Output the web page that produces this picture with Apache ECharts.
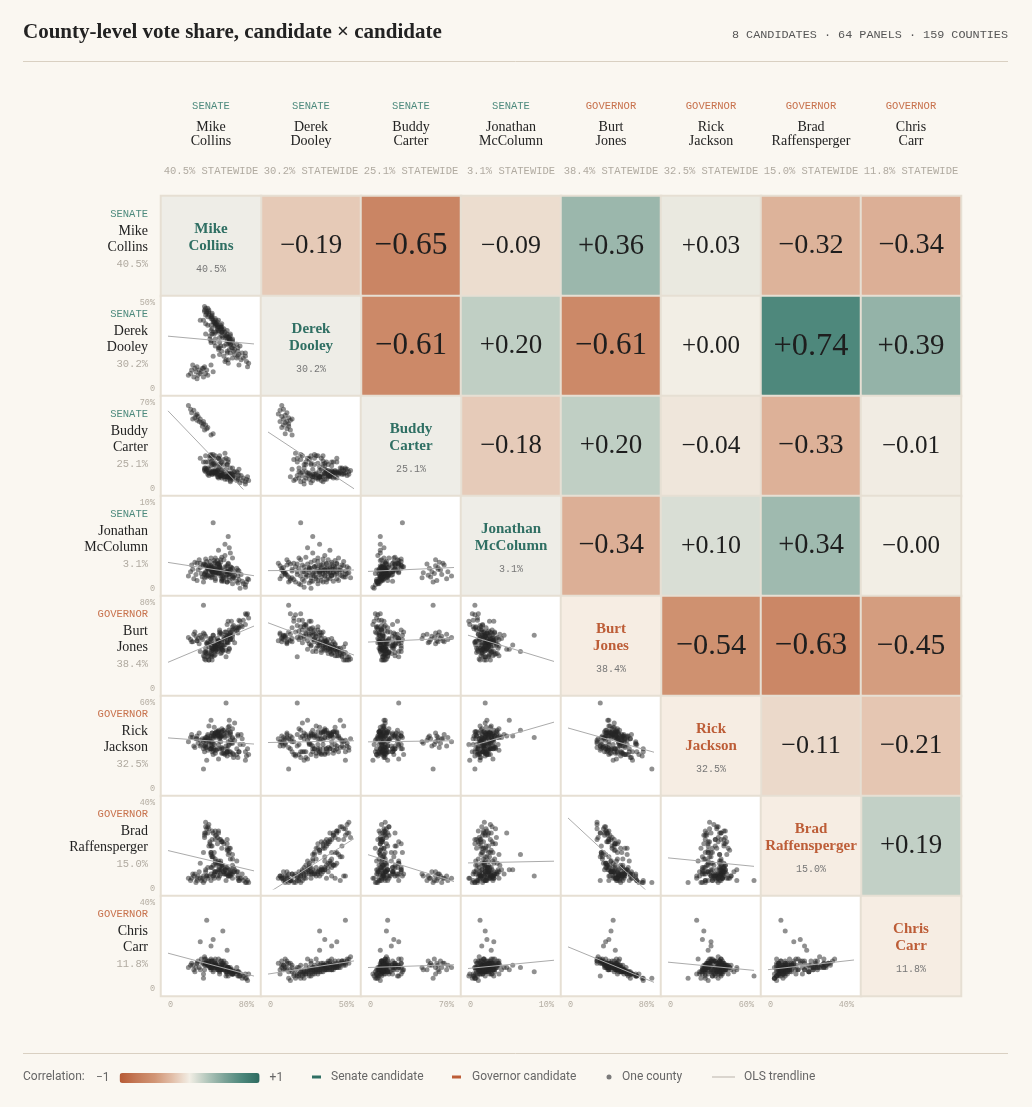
<!DOCTYPE html>
<html>
<head>
<meta charset="utf-8">
<script src="https://cdn.jsdelivr.net/npm/echarts@6/dist/echarts.min.js"></script>
<style>
html, body { margin: 0; padding: 0; background: #faf7f1; }
#chart { width: 1032px; height: 1107px; }
</style>
</head>
<body>
<div id="chart"></div>
<script>
// candidates, in matrix order
var candidates = ['Mike Collins', 'Derek Dooley', 'Buddy Carter', 'Jonathan McColumn',
    'Burt Jones', 'Rick Jackson', 'Brad Raffensperger', 'Chris Carr'];
var offices = ['SENATE', 'SENATE', 'SENATE', 'SENATE', 'GOVERNOR', 'GOVERNOR', 'GOVERNOR', 'GOVERNOR'];
var statewide = [40.5, 30.2, 25.1, 3.1, 38.4, 32.5, 15.0, 11.8];
var axisMax = [80, 50, 70, 10, 80, 60, 40, 40];

// correlation (upper triangle, as printed)
var corr = [
    [null, -0.19, -0.65, -0.09, 0.36, 0.03, -0.32, -0.34],
    [null, null, -0.61, 0.20, -0.61, 0.00, 0.74, 0.39],
    [null, null, null, -0.18, 0.20, -0.04, -0.33, -0.01],
    [null, null, null, null, -0.34, 0.10, 0.34, -0.00],
    [null, null, null, null, null, -0.54, -0.63, -0.45],
    [null, null, null, null, null, null, -0.11, -0.21],
    [null, null, null, null, null, null, null, 0.19],
    [null, null, null, null, null, null, null, null]
];

// county vote share, % (159 counties, same order in every list)
var collins = [74,66,56,73,53,68,64,70,52,65, 48,66,55,69,50,61,65,47,62,59, 47,65,49,61,44,58,58,64,48,60,
    43,55,40,60,58,57,44,56,57,53, 39,54,54,55,43,58,50,50,53,40, 51,46,41,52,49,48,46,47,37,49,
    44,44,50,35,42,46,43,44,33,47, 41,40,44,41,37,41,35,41,36,38, 34,38,35,37,34,56,72,62,72,57,
    48,67,56,57,40,57,60,39,48,55, 50,58,41,35,51,47,55,47,46,50, 49,50,46,44,45,45,43,42,40,38,
    38,34,42,60,54,36,51,30,42,40, 52,58,75,60,55,54,44,
    19,21,24,22,26,25,28,27,30,29, 31,33,23,32,35,34,36,33,40,27,42,37];
var dooley = [13,14,15,16,16,17,18,18,19,19, 20,20,21,21,22,22,22,23,23,24, 24,24,25,25,25,26,26,26,27,27,
    27,28,28,28,29,29,29,30,30,30, 31,31,31,32,32,32,33,33,33,34, 34,34,35,35,35,36,36,36,37,37,
    37,38,38,38,39,39,39,40,40,40, 41,41,41,42,42,43,43,44,44,45, 45,46,47,47,48,17,19,20,21,23,
    24,25,26,27,27,28,29,29,30,30, 31,31,32,32,33,33,34,34,35,35, 36,36,37,37,38,38,39,40,42,43,
    44,46,19,24,26,45,30,40,33,37, 25,21,15,18,22,17,33,
    8,9,7,11,10,12,8,13,9,11, 10,7,14,12,9,13,11,12,14,6,10,8];
var carter = [10,16,24,8,29,11,14,9,24,13, 27,11,20,7,22,14,9,25,11,13, 25,8,21,11,27,12,10,7,20,10,
    25,13,27,9,9,11,21,10,9,10, 25,12,10,10,20,6,13,13,8,22, 12,15,20,10,11,11,14,10,22,10,
    14,14,9,22,15,10,14,13,22,9, 14,13,12,13,17,12,17,12,15,13, 17,11,14,12,15,22,6,14,4,13,
    24,5,10,12,28,12,8,27,18,10, 16,7,23,27,12,16,8,14,15,11, 11,11,12,15,13,13,13,14,14,16,
    13,16,28,12,16,16,15,25,21,19, 20,17,7,17,20,25,19,
    68,65,64,62,60,58,59,56,57,55, 54,55,57,51,52,48,49,53,44,61,45,50];
var mccolumn = [1.2,2.1,3.0,0.8,2.6,1.7,2.4,0.6,3.4,1.5, 2.8,1.1,2.0,0.9,3.7,1.4,2.2,2.9,1.6,2.5,
    1.9,0.7,3.1,1.3,2.4,1.8,4.2,0.9,2.6,1.5, 3.3,2.0,2.7,1.2,2.3,1.0,3.6,2.1,1.7,5.2,
    2.8,1.4,2.5,0.8,3.0,1.8,2.2,1.6,3.9,2.4, 1.1,2.9,2.0,1.3,3.4,2.6,1.9,4.5,2.3,1.5,
    3.1,2.0,0.9,2.7,1.7,3.3,2.4,1.2,2.9,1.8, 2.2,3.6,1.0,2.5,1.6,2.0,2.8,1.4,3.2,2.1,
    1.7,2.6,1.9,2.4,1.3,2.9,0.5,2.0,0.2,4.8, 2.3,0.1,6.1,2.0,2.6,1.4,0.6,3.2,1.9,2.7,
    1.0,2.2,2.1,3.5,1.5,2.5,0.8,3.0,2.2,1.8, 2.4,1.2,2.9,1.6,2.3,1.9,2.6,2.0,2.2,1.5,
    2.7,1.8,7.7,2.4,1.6,1.4,2.0,3.0,2.2,1.6, 0.9,2.6,1.1,3.6,1.7,2.0,2.0,
    1.5,2.0,1.2,2.8,1.7,3.1,2.2,1.0,2.5,3.4, 1.8,2.7,2.3,1.4,2.0,2.9,1.6,0.8,1.3,3.0,1.9,2.4];
var jones = [70,57,63,69,53,59,54,64,48,58, 55,64,49,58,51,59,52,45,55,63, 42,56,52,56,40,46,50,57,44,55,
    47,49,35,51,46,55,40,43,50,41, 47,50,36,44,40,53,44,41,47,41, 36,44,38,46,33,40,35,37,42,38,
    32,39,44,34,37,41,31,35,31,38, 36,31,38,32,34,30,35,27,33,27, 34,27,27,30,28,48,70,43,60,37,
    51,63,35,51,46,38,58,43,53,44, 34,52,43,38,36,45,43,45,42,37, 40,38,47,36,37,39,42,36,38,31,
    39,30,50,49,53,42,40,35,38,33, 41,47,66,46,60,30,40,
    48,46,51,44,49,53,47,45,50,42, 48,52,44,46,49,51,43,78,47,45,50,44];
var jackson = [28,26,33,23,24,38,24,31,41,22, 37,26,26,35,37,22,38,21,34,32, 31,37,37,24,39,26,38,28,28,36,
    38,23,37,25,40,31,27,43,26,37, 35,25,39,40,28,34,25,42,36,28, 28,39,39,25,36,39,28,37,38,33,
    37,25,40,36,27,40,31,39,28,40, 26,36,37,29,35,30,34,33,29,34, 26,32,29,27,35,30,26,46,20,48,
    36,31,41,37,28,44,35,28,35,28, 40,24,39,31,41,40,26,41,38,29, 37,28,38,39,27,40,43,37,48,33,
    44,30,36,32,30,20,25,30,24,30, 38,39,24,42,26,60,36,
    33,36,30,38,35,29,32,37,34,39, 31,33,36,35,30,34,36,14,33,35,32,37];
var raffensperger = [4,4,6,3,7,5,8,4,7,6, 9,4,10,7,11,8,5,13,9,7, 12,8,7,10,8,14,7,13,8,16,
    7,19,10,14,8,19,8,18,17,9, 22,7,10,21,8,19,10,19,9,20, 11,21,10,21,12,23,12,26,10,23,
    14,25,11,26,11,24,17,27,17,27, 27,16,23,15,29,15,29,23,28,28, 25,30,31,26,24,6,3,8,5,9,
    10,5,16,7,17,6,7,21,6,18, 9,9,20,9,22,9,23,5,8,22, 13,22,6,12,25,11,5,26,4,20,
    6,26,6,11,9,6,8,12,15,17, 8,6,3,5,7,4,13,
    5,4,6,5,3,7,6,4,5,8, 4,6,7,5,8,4,6,3,7,5,6,5];
var carr = [4,8,6,5,9,7,10,6,11,8, 7,6,9,5,11,7,8,14,8,7, 10,6,9,8,12,9,10,7,10,7,
    11,8,14,9,9,8,12,10,9,11, 10,8,12,10,11,8,10,11,9,10, 12,9,10,9,13,11,12,10,11,9,
    14,11,9,12,11,10,13,11,12,10, 11,13,10,12,11,13,12,13,12,12, 11,13,14,12,15,10,5,8,7,9,
    9,6,10,8,9,9,7,10,8,18, 10,9,11,12,11,9,10,9,10,12, 9,13,9,11,10,11,10,10,10,13,
    11,14,8,8,8,32,27,22,23,20, 13,8,7,7,7,6,11,
    10,11,9,12,10,8,13,12,9,10, 14,7,11,12,11,9,13,5,10,12,9,11];

var shares = [collins, dooley, carter, mccolumn, jones, jackson, raffensperger, carr];

var SENATE = '#2f6f63', GOV = '#bd5d37';
var SENATE_LBL = '#4d8a7d', GOV_LBL = '#c8724d';
var rampColors = ['#b75a34', '#c57a58', '#d19575', '#e2bea8', '#f2eee5', '#b3c7bc', '#7ca398', '#4c877b', '#2e6b60'];
var SERIF = '"Liberation Serif", "DejaVu Serif", serif';
var MONO = '"Liberation Mono", "DejaVu Sans Mono", monospace';
var SANS = 'Roboto, "Noto Sans", sans-serif';

var X0 = 161, Y0 = 196, CELL = 100, PAD = 7, N = candidates.length;

function fmt(r) {
    var neg = r < 0 || Object.is(r, -0);
    return (neg ? '\u2212' : '+') + Math.abs(r).toFixed(2);
}

function ols(xs, ys) {
    var n = xs.length, mx = 0, my = 0;
    for (var k = 0; k < n; k++) { mx += xs[k]; my += ys[k]; }
    mx /= n; my /= n;
    var sxy = 0, sxx = 0;
    for (var k = 0; k < n; k++) {
        sxy += (xs[k] - mx) * (ys[k] - my);
        sxx += (xs[k] - mx) * (xs[k] - mx);
    }
    var b = sxy / sxx;
    return { a: my - b * mx, b: b };
}

var grids = [{ left: X0, top: Y0, width: CELL * N, height: CELL * N }];
var xAxes = [{ type: 'category', gridIndex: 0, data: candidates, show: false }];
var yAxes = [{ type: 'category', gridIndex: 0, data: candidates, inverse: true, show: false }];

// correlation cells + plain cells (diagonal, scatter backgrounds)
var corrData = [];
var plainData = [];
for (var i = 0; i < N; i++) {
    for (var j = 0; j < N; j++) {
        if (j > i) {
            var r = corr[i][j];
            corrData.push({
                value: [j, i, r],
                label: { formatter: fmt(r), fontSize: 25 + 10 * Math.abs(r) }
            });
        } else {
            var bg = '#ffffff';
            if (i === j) bg = offices[i] === 'SENATE' ? '#eeede7' : '#f6ede3';
            plainData.push({ value: [j, i, 0], itemStyle: { color: bg } });
        }
    }
}

var series = [{
    type: 'heatmap',
    xAxisIndex: 0, yAxisIndex: 0,
    data: corrData,
    itemStyle: { borderColor: '#e6dfd3', borderWidth: 2 },
    label: { show: true, color: '#1e1e1e', fontFamily: SERIF },
    emphasis: { disabled: true },
    silent: true
}, {
    type: 'heatmap',
    xAxisIndex: 0, yAxisIndex: 0,
    data: plainData,
    itemStyle: { borderColor: '#e6dfd3', borderWidth: 2 },
    emphasis: { disabled: true },
    silent: true
}];

// scatter panels, lower triangle
var axisLabelBase = { color: '#b4ada2', fontFamily: MONO, fontSize: 8.5 };
function pctLabel(v) { return v === 0 ? '0' : v + '%'; }
for (var i = 1; i < N; i++) {
    for (var j = 0; j < i; j++) {
        var g = grids.length;
        grids.push({ left: X0 + CELL * j + PAD, top: Y0 + CELL * i + PAD, width: CELL - 2 * PAD, height: CELL - 2 * PAD });
        xAxes.push({
            type: 'value', gridIndex: g, min: 0, max: axisMax[j], interval: axisMax[j],
            axisLine: { show: false }, axisTick: { show: false }, splitLine: { show: false },
            axisLabel: Object.assign({
                show: i === N - 1, margin: 11, alignMinLabel: 'left', alignMaxLabel: 'right',
                formatter: pctLabel
            }, axisLabelBase)
        });
        yAxes.push({
            type: 'value', gridIndex: g, min: 0, max: axisMax[i], interval: axisMax[i],
            axisLine: { show: false }, axisTick: { show: false }, splitLine: { show: false },
            axisLabel: Object.assign({ show: j === 0, margin: 13, formatter: pctLabel }, axisLabelBase)
        });
        var xs = shares[j], ys = shares[i];
        var pts = xs.map(function (x, n) { return [x, ys[n]]; });
        var fit = ols(xs, ys);
        var xm = axisMax[j];
        series.push({
            type: 'line', xAxisIndex: g, yAxisIndex: g,
            data: [[0, fit.a], [xm, fit.a + fit.b * xm]],
            symbol: 'none', clip: true, silent: true,
            lineStyle: { color: '#ababab', width: 1 }
        });
        series.push({
            type: 'scatter', xAxisIndex: g, yAxisIndex: g,
            data: pts, symbolSize: 5, silent: true,
            itemStyle: { color: 'rgba(38,38,38,0.64)' }
        });
    }
}

// text: title, headers, labels, legend
var graphics = [];
function txt(x, y, s, font, fill, align) {
    graphics.push({
        type: 'text', silent: true, z: 100,
        style: { x: x, y: y, text: s, font: font, fill: fill, align: align || 'center', verticalAlign: 'middle' }
    });
}
txt(23, 33, 'County-level vote share, candidate \u00d7 candidate', 'bold 21px ' + SERIF, '#222', 'left');
txt(1008, 35, '8 CANDIDATES \u00b7 64 PANELS \u00b7 159 COUNTIES', '11.8px ' + MONO, '#555', 'right');
graphics.push({ type: 'line', silent: true, shape: { x1: 23, y1: 61.5, x2: 1008, y2: 61.5 }, style: { stroke: '#d9d0c2', lineWidth: 1 } });
graphics.push({ type: 'line', silent: true, shape: { x1: 23, y1: 1053.5, x2: 1008, y2: 1053.5 }, style: { stroke: '#d9d0c2', lineWidth: 1 } });

for (var c = 0; c < N; c++) {
    var cx = X0 + CELL * c + CELL / 2;
    var rowTop = Y0 + CELL * c;
    var parts = candidates[c].split(' ');
    var isSen = offices[c] === 'SENATE';
    var pct = statewide[c].toFixed(1) + '%';
    // column header
    txt(cx, 106, offices[c], '10.5px ' + MONO, isSen ? SENATE_LBL : GOV_LBL);
    txt(cx, 127, parts[0], '14px ' + SERIF, '#222');
    txt(cx, 141, parts[1], '14px ' + SERIF, '#222');
    txt(cx, 171, pct + ' STATEWIDE', '10.5px ' + MONO, '#b0aaa0');
    // row header
    txt(148, rowTop + 18, offices[c], '10.5px ' + MONO, isSen ? SENATE_LBL : GOV_LBL, 'right');
    txt(148, rowTop + 35, parts[0], '14px ' + SERIF, '#222', 'right');
    txt(148, rowTop + 51, parts[1], '14px ' + SERIF, '#222', 'right');
    txt(148, rowTop + 68, pct, '10.5px ' + MONO, '#b0aaa0', 'right');
    // diagonal
    txt(cx, rowTop + 33, parts[0], 'bold 15px ' + SERIF, isSen ? SENATE : GOV);
    txt(cx, rowTop + 50, parts[1], 'bold 15px ' + SERIF, isSen ? SENATE : GOV);
    txt(cx, rowTop + 73, pct, '10px ' + MONO, '#777');
}

// legend
var LY = 1077;
txt(23, LY, 'Correlation:', '12px ' + SANS, '#666', 'left');
graphics.push({ type: 'rect', silent: true, shape: { x: 312, y: LY - 1.5, width: 9, height: 3 }, style: { fill: SENATE } });
txt(331, LY, 'Senate candidate', '12px ' + SANS, '#666', 'left');
graphics.push({ type: 'rect', silent: true, shape: { x: 452, y: LY - 1.5, width: 9, height: 3 }, style: { fill: GOV } });
txt(472, LY, 'Governor candidate', '12px ' + SANS, '#666', 'left');
graphics.push({ type: 'circle', silent: true, shape: { cx: 609, cy: LY, r: 2.5 }, style: { fill: '#7a7a7a' } });
txt(622, LY, 'One county', '12px ' + SANS, '#666', 'left');
graphics.push({ type: 'line', silent: true, shape: { x1: 712, y1: LY, x2: 735, y2: LY }, style: { stroke: '#cfcac2', lineWidth: 1.5 } });
txt(744, LY, 'OLS trendline', '12px ' + SANS, '#666', 'left');

var chart = echarts.init(document.getElementById('chart'));
chart.setOption({
    backgroundColor: '#faf7f1',
    animation: false,
    grid: grids,
    xAxis: xAxes,
    yAxis: yAxes,
    visualMap: {
        type: 'continuous', seriesIndex: 0, dimension: 2,
        min: -1, max: 1, calculable: false, hoverLink: false,
        inRange: { color: rampColors },
        orient: 'horizontal', left: 81, top: 1057,
        itemWidth: 10, itemHeight: 140,
        text: ['+1', '\u22121'], textGap: 10,
        textStyle: { color: '#666', fontFamily: SANS, fontSize: 12 }
    },
    graphic: graphics,
    series: series
});
</script>
</body>
</html>
